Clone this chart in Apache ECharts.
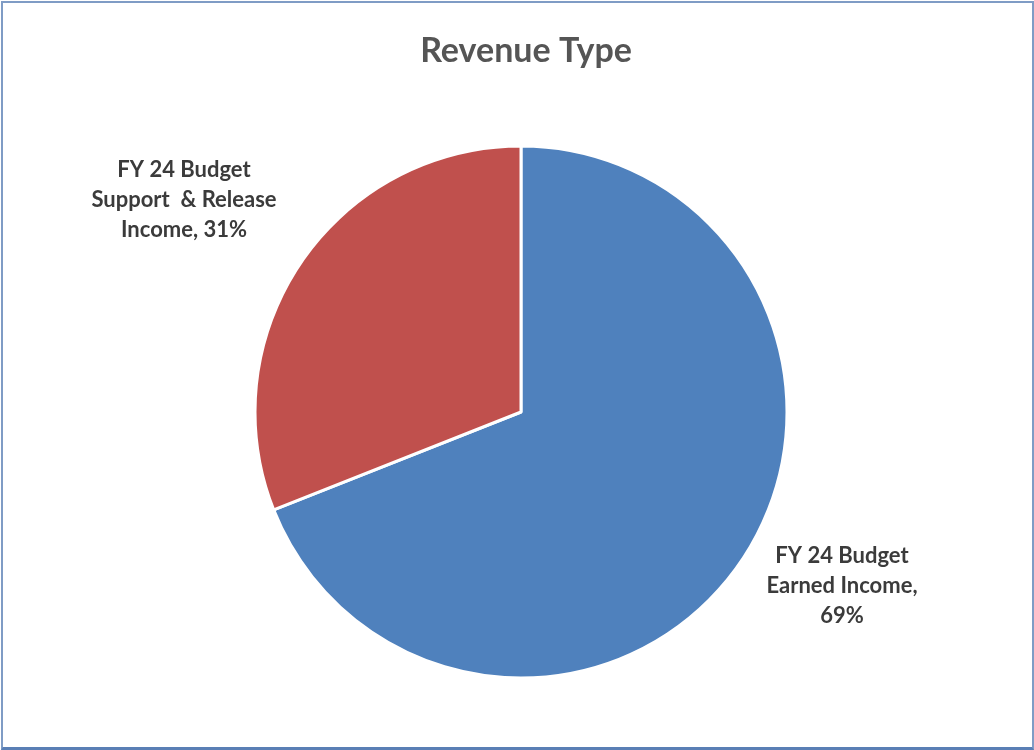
<!DOCTYPE html>
<html>
<head>
<meta charset="utf-8">
<script src="https://cdn.jsdelivr.net/npm/echarts@6/dist/echarts.min.js"></script>
<style>
  html, body { margin: 0; padding: 0; background: #ffffff; }
  #frame {
    position: absolute; left: 1px; top: 1px; width: 1029px; height: 744px;
    border: 2px solid #7f9cc5; border-bottom: 3px solid #5a7fb5; background: #fff;
  }
  #chart { width: 1029px; height: 744px; }
</style>
</head>
<body>
<div id="frame"><div id="chart"></div></div>
<script>
// Revenue split for the FY 24 budget
const categories = ['FY 24 Budget\nEarned Income', 'FY 24 Budget\nSupport  & Release\nIncome'];
const shares = [69, 31];
const colors = ['#4f81bd', '#c0504d'];
// label anchor points (pixels) for each slice
const labelAnchors = [[839, 583], [181, 197]];

const chart = echarts.init(document.getElementById('chart'));
const fontFamily = 'Lato, "Open Sans", "Noto Sans", sans-serif';

chart.setOption({
  animation: false,
  title: {
    text: 'Revenue Type',
    left: 518, top: 26, textAlign: 'center',
    textStyle: { fontFamily, fontSize: 34, fontWeight: 'bold', color: '#555555' }
  },
  series: [{
    type: 'pie',
    center: [518, 409],
    radius: 266,
    startAngle: 90,
    clockwise: true,
    data: categories.map((name, i) => ({ name, value: shares[i], itemStyle: { color: colors[i] } })),
    itemStyle: { borderColor: '#ffffff', borderWidth: 3 },
    label: {
      show: true,
      position: 'outside',
      formatter: p => p.dataIndex === 0 ? p.name + ',\n' + p.value + '%' : p.name + ', ' + p.value + '%',
      fontFamily, fontSize: 22, fontWeight: 'bold', color: '#3b3b3b',
      lineHeight: 30, align: 'center'
    },
    labelLine: { show: false },
    labelLayout: p => ({ x: labelAnchors[p.dataIndex][0], y: labelAnchors[p.dataIndex][1], align: 'center', verticalAlign: 'middle' }),
    emphasis: { disabled: true }
  }]
});
</script>
</body>
</html>
